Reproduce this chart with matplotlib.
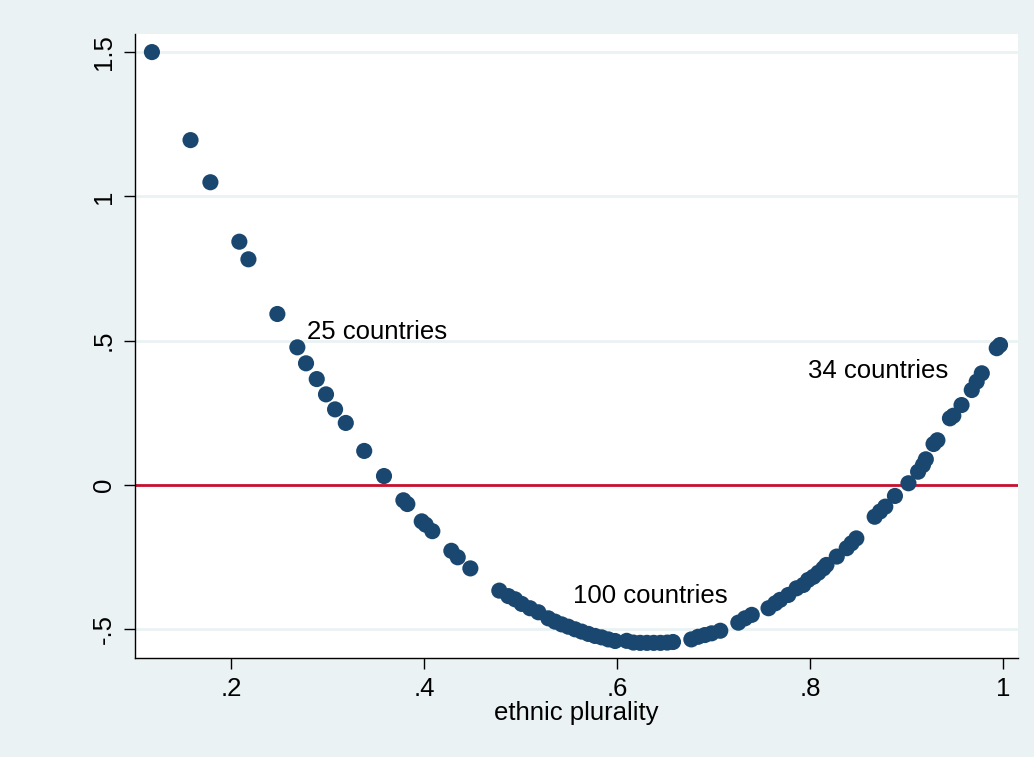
import matplotlib.pyplot as plt

# ethnic plurality vs. fitted effect
plurality = [0.118, 0.158, 0.1786, 0.2086, 0.218, 0.248, 0.2687, 0.2777, 0.2888, 0.2984,
             0.3078, 0.3189, 0.338, 0.3585, 0.3786, 0.3827, 0.3976, 0.4017, 0.4086, 0.4283,
             0.4349, 0.448, 0.478, 0.4874, 0.4943, 0.5012, 0.5098, 0.5185, 0.5288, 0.5358,
             0.5427, 0.5495, 0.5565, 0.5634, 0.5703, 0.5772, 0.5841, 0.591, 0.598, 0.610,
             0.617, 0.624, 0.631, 0.638, 0.645, 0.652, 0.658, 0.677, 0.684, 0.691,
             0.698, 0.707, 0.7257, 0.7326, 0.7396, 0.757, 0.764, 0.769, 0.7775, 0.786,
             0.793, 0.798, 0.8035, 0.8086, 0.8138, 0.817, 0.8277, 0.838, 0.843, 0.848,
             0.867, 0.8725, 0.878, 0.888, 0.902, 0.912, 0.917, 0.920, 0.928, 0.932,
             0.945, 0.9485, 0.957, 0.9676, 0.9727, 0.978, 0.9935, 0.9969]
effect = [1.50, 1.195, 1.049, 0.843, 0.782, 0.5925, 0.477, 0.4216, 0.367, 0.314,
          0.262, 0.215, 0.118, 0.031, -0.053, -0.066, -0.126, -0.1375, -0.16, -0.228,
          -0.2505, -0.289, -0.366, -0.385, -0.396, -0.412, -0.427, -0.441, -0.462, -0.4735,
          -0.483, -0.491, -0.500, -0.508, -0.516, -0.523, -0.528, -0.535, -0.5405, -0.540,
          -0.546, -0.547, -0.547, -0.547, -0.547, -0.546, -0.544, -0.535, -0.526, -0.520,
          -0.514, -0.505, -0.477, -0.462, -0.450, -0.427, -0.410, -0.398, -0.381, -0.358,
          -0.3465, -0.329, -0.318, -0.304, -0.289, -0.277, -0.248, -0.219, -0.202, -0.185,
          -0.110, -0.092, -0.075, -0.038, 0.006, 0.046, 0.069, 0.089, 0.142, 0.155,
          0.231, 0.240, 0.277, 0.329, 0.358, 0.387, 0.474, 0.485]

x_ticks = [0.2, 0.4, 0.6, 0.8, 1.0]
x_labels = ['.2', '.4', '.6', '.8', '1']
y_ticks = [-0.5, 0, 0.5, 1, 1.5]
y_labels = ['-.5', '0', '.5', '1', '1.5']

notes = ['25 countries', '100 countries', '34 countries']
note_x = [0.279, 0.554, 0.798]
note_y = [0.53, -0.385, 0.395]

plt.rcParams['font.family'] = ['Liberation Sans', 'DejaVu Sans']

fig = plt.figure(figsize=(10.34, 7.57), dpi=100, facecolor='#EAF2F3')
ax = fig.add_axes([0.1306, 0.1308, 0.8539, 0.8243])
ax.set_facecolor('white')

# light horizontal grid, red reference line at zero
for yt in y_ticks:
    ax.axhline(yt, color='#EAF2F3', lw=2, zorder=1)
ax.axhline(0, color='#C8102E', lw=2, zorder=2)

ax.scatter(plurality, effect, s=135, color='#1A476F', edgecolors='none', zorder=3)

for t, tx, ty in zip(notes, note_x, note_y):
    ax.text(tx, ty, t, fontsize=18.5, va='center', ha='left', color='black', zorder=4)

ax.set_xlim(0.1005, 1.0155)
ax.set_ylim(-0.5994, 1.5627)
ax.set_xticks(x_ticks)
ax.set_xticklabels(x_labels)
ax.set_yticks(y_ticks)
ax.set_yticklabels(y_labels, rotation=90, va='center')
ax.tick_params(axis='both', length=8, width=1, labelsize=18.5, direction='out', pad=6)
ax.set_xlabel('ethnic plurality', fontsize=18.5, labelpad=0)

for side in ['top', 'right']:
    ax.spines[side].set_visible(False)
ax.spines['left'].set_linewidth(1)
ax.spines['bottom'].set_linewidth(1)

plt.savefig('out.png', dpi=100, facecolor=fig.get_facecolor())
